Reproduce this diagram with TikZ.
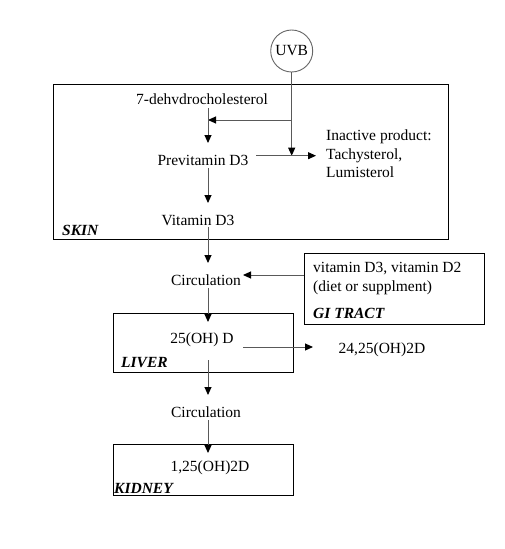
\documentclass[tikz,border=0pt]{standalone}
\usepackage{fontspec}
\setmainfont{Liberation Serif}
\usetikzlibrary{arrows.meta}
\begin{document}
\begin{tikzpicture}[x=1pt,y=-1pt,
  txt/.style={font=\fontsize{15.5}{18.5}\selectfont, inner sep=0pt, text=black},
  lbl/.style={font=\fontsize{15.5}{18.5}\selectfont\bfseries\itshape, inner sep=0pt, anchor=west},
  boxr/.style={draw=black, line width=0.9pt},
  ln/.style={draw=black!65, line width=1pt},
  arr/.style={ln, -{Triangle[length=8pt,width=7pt,color=black]}}]
\useasboundingbox (0,0) rectangle (505,549);
\fill[white] (0,0) rectangle (505,549);
% boxes
\draw[boxr] (53,84) rectangle (448,239);
\draw[boxr] (304,253) rectangle (484,324);
\draw[boxr] (113,313) rectangle (293,372);
\draw[boxr] (113,444) rectangle (293,495);
\node[draw=black!60, line width=0.9pt, circle, minimum size=42pt, inner sep=0pt, txt] (uvb) at (291.7,51) {UVB};
% texts
\node[txt] (dehydro) at (202,99) {7-dehvdrocholesterol};
\node[txt] (previt) at (203,160) {Previtamin D3};
\node[txt, anchor=west, align=left] (inactive) at (326,154) {Inactive product:\\Tachysterol,\\Lumisterol};
\node[txt] (vitd3) at (198,220) {Vitamin D3};
\node[lbl] (skin) at (62,230) {SKIN};
\node[txt] (circ1) at (206,280) {Circulation};
\node[txt, anchor=west, align=left] (gitext) at (313,278.5) {vitamin D3, vitamin D2\\(diet or supplment)};
\node[lbl] (gi) at (313,313) {GI TRACT};
\node[txt] (oh25) at (202,340) {25(OH) D};
\node[lbl] (liver) at (121,363) {LIVER};
\node[txt] (oh2425) at (382,350) {24,25(OH)2D};
\node[txt] (circ2) at (206,412) {Circulation};
\node[txt] (oh125) at (210,468) {1,25(OH)2D};
\node[lbl] (kidney) at (114,488) {KIDNEY};
% connector points
\coordinate (j1) at (291.7,120);
\coordinate (k1) at (208,120);
\coordinate (pe) at (256,155.7);
\coordinate (ie) at (316,155.7);
\coordinate (gw) at (304,275);
\coordinate (ce) at (243,275);
\coordinate (oe) at (243,347);
\coordinate (oo) at (313,347);
% connectors
\draw[arr] (uvb.south) -- (uvb.south |- pe);
\draw[arr] (j1) -- (k1);
\draw[arr] ([xshift=6pt]dehydro.south |- 0,108) -- ([xshift=6pt]dehydro.south |- 0,143);
\draw[arr] (pe) -- (ie);
\draw[arr] (208,168) -- (208,203);
\draw[arr] (208,227) -- (208,263);
\draw[arr] (gw) -- (ce);
\draw[arr] (208,288) -- (208,322);
\draw[arr] (oe) -- (oo);
\draw[arr] (208,360) -- (208,395);
\draw[arr] (208,420) -- (208,453);
\end{tikzpicture}
\end{document}
